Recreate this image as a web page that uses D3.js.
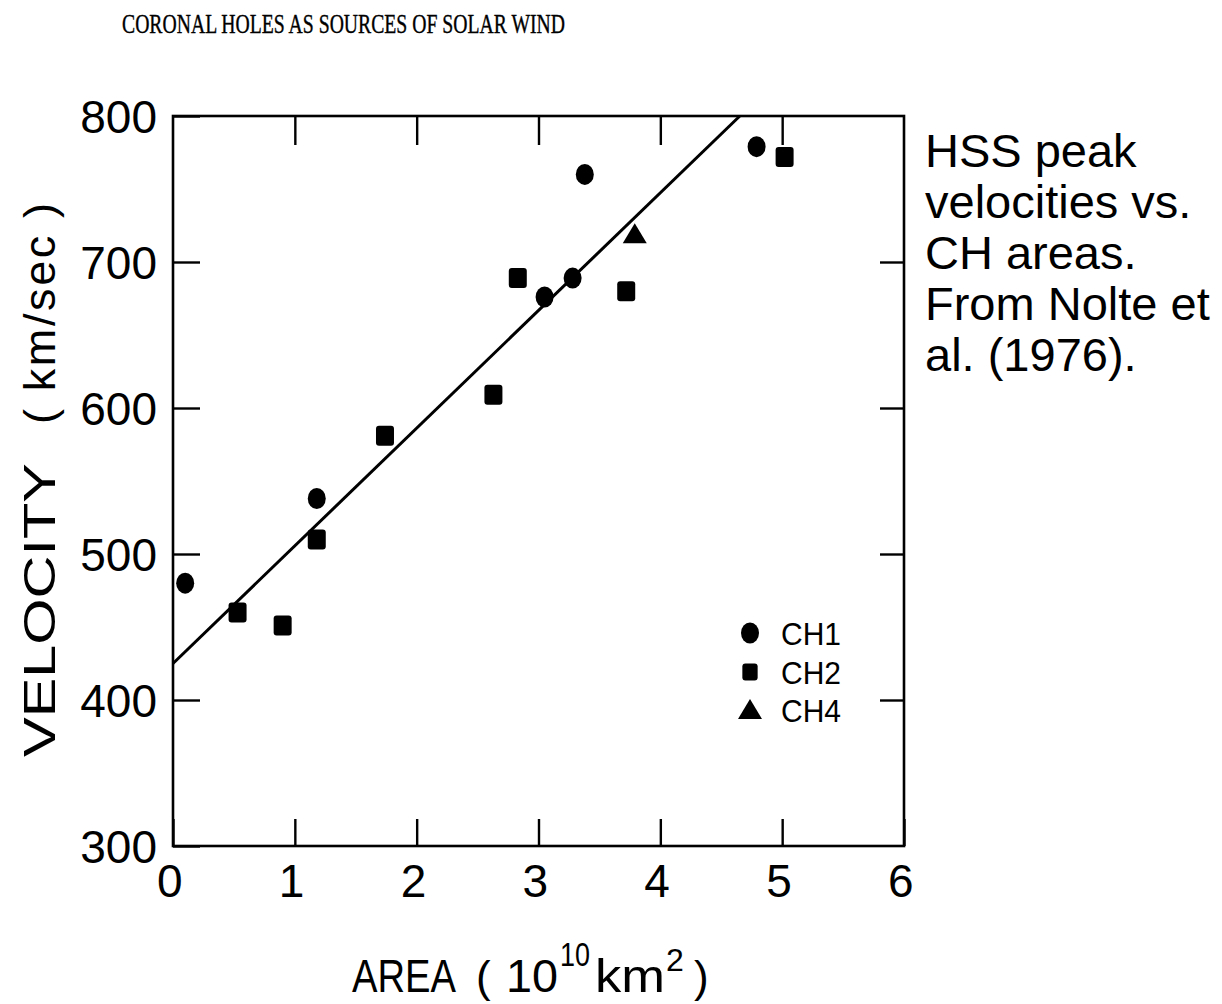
<!DOCTYPE html>
<html>
<head>
<meta charset="utf-8">
<script src="https://cdn.jsdelivr.net/npm/d3@7"></script>
<style>
  html, body { margin: 0; padding: 0; background: #fff; }
  svg { display: block; }
  text { fill: #000; }
</style>
</head>
<body>
<svg id="chart" width="1222" height="1004"></svg>
<script>
// ---- data ----
const ch1Area = [0.10, 1.18, 3.05, 3.28, 3.38, 4.79];
const ch1Vel  = [480, 538, 676, 689, 760, 779];
const ch2Area = [0.53, 0.90, 1.18, 1.74, 2.63, 2.83, 3.72, 5.02];
const ch2Vel  = [460, 451, 510, 581, 609, 689, 680, 772];
const ch4Area = [3.79];
const ch4Vel  = [719];
const fitIntercept = 425;   // km/sec at area 0
const fitSlope = 80.6;      // km/sec per 10^10 km^2
const xTicks = [0, 1, 2, 3, 4, 5, 6];
const yTicks = [300, 400, 500, 600, 700, 800];
const legendLabels = ["CH1", "CH2", "CH4"];
const titleText = "CORONAL HOLES AS SOURCES OF SOLAR WIND";
const noteLines = ["HSS peak", "velocities vs.", "CH areas.", "From Nolte et", "al. (1976)."];

const svg = d3.select("#chart");
const SANS = "'Liberation Sans', Arial, Helvetica, sans-serif";

const x = d3.scaleLinear().domain([0, 6]).range([173, 904]);
const y = d3.scaleLinear().domain([300, 800]).range([846, 116]);

// title
svg.append("text")
  .attr("x", 122).attr("y", 33)
  .attr("font-family", "'Liberation Serif', 'Times New Roman', serif")
  .attr("font-size", 28)
  .attr("stroke", "#000").attr("stroke-width", 0.4)
  .attr("textLength", 443).attr("lengthAdjust", "spacingAndGlyphs")
  .text(titleText);

// frame
svg.append("rect")
  .attr("x", x(0)).attr("y", y(800))
  .attr("width", x(6) - x(0)).attr("height", y(300) - y(800))
  .attr("fill", "none").attr("stroke", "#000").attr("stroke-width", 2.6);

const tickLen = 27;
function styleAxis(g) {
  g.select(".domain").remove();
  g.selectAll(".tick line").attr("stroke", "#000").attr("stroke-width", 2.4);
  g.selectAll(".tick text").attr("font-family", SANS).attr("font-size", 46).attr("fill", "#000");
}

// bottom axis
svg.append("g").attr("transform", `translate(0,${y(300)})`)
  .call(d3.axisBottom(x).tickValues(xTicks).tickFormat(d3.format("d"))
        .tickSizeInner(-tickLen).tickSizeOuter(0).tickPadding(18))
  .call(styleAxis)
  .call(g => g.selectAll(".tick text").attr("dx", "-0.08em"));

// top axis (ticks only)
svg.append("g").attr("transform", `translate(0,${y(800)})`)
  .call(d3.axisTop(x).tickValues(xTicks.slice(1, -1)).tickFormat("")
        .tickSizeInner(-tickLen - 2).tickSizeOuter(0))
  .call(styleAxis);

// left axis
svg.append("g").attr("transform", `translate(${x(0)},0)`)
  .call(d3.axisLeft(y).tickValues(yTicks).tickFormat(d3.format("d"))
        .tickSizeInner(-tickLen).tickSizeOuter(0).tickPadding(16))
  .call(styleAxis)
  .call(g => g.selectAll(".tick text").attr("dy", "0.36em"));

// right axis (ticks only)
svg.append("g").attr("transform", `translate(${x(6)},0)`)
  .call(d3.axisRight(y).tickValues(yTicks.slice(1, -1)).tickFormat("")
        .tickSizeInner(-tickLen + 3).tickSizeOuter(0))
  .call(styleAxis);

// regression line, clipped at the top of the frame
const aEnd = (800 - fitIntercept) / fitSlope;
svg.append("line")
  .attr("x1", x(0)).attr("y1", y(fitIntercept))
  .attr("x2", x(aEnd)).attr("y2", y(fitIntercept + fitSlope * aEnd))
  .attr("stroke", "#000").attr("stroke-width", 3);

// markers
const circleMark = (g, cx, cy, s = 1) => g.append("ellipse")
  .attr("cx", cx).attr("cy", cy).attr("rx", 9 * s).attr("ry", 10.5 * s).attr("fill", "#000");
const squareMark = (g, cx, cy, s = 1) => g.append("rect")
  .attr("x", cx - 9 * s).attr("y", cy - 10 * s).attr("width", 18 * s).attr("height", 20 * s)
  .attr("rx", 3).attr("fill", "#000");
const triMark = (g, cx, cy, s = 1) => g.append("path")
  .attr("d", `M${cx},${cy - 11 * s}L${cx + 12 * s},${cy + 9 * s}L${cx - 12 * s},${cy + 9 * s}Z`)
  .attr("fill", "#000");

const pts = svg.append("g");
ch1Area.forEach((a, i) => circleMark(pts, x(a), y(ch1Vel[i])));
ch2Area.forEach((a, i) => squareMark(pts, x(a), y(ch2Vel[i])));
ch4Area.forEach((a, i) => triMark(pts, x(a), y(ch4Vel[i])));

// legend
const leg = svg.append("g");
const legY = [633, 672, 710];
const legMarks = [circleMark, squareMark, triMark];
legendLabels.forEach((lab, i) => {
  legMarks[i](leg, 750, legY[i], i === 1 ? 0.85 : 1);
  leg.append("text").attr("x", 781).attr("y", legY[i] + 12)
    .attr("font-family", SANS).attr("font-size", 31)
    .attr("textLength", 60).attr("lengthAdjust", "spacingAndGlyphs")
    .text(lab);
});

// y-axis title
const yl = svg.append("g").attr("transform", "translate(55,0) rotate(-90)");
yl.append("text").attr("x", -757).attr("y", 0)
  .attr("font-family", SANS).attr("font-size", 45)
  .attr("textLength", 294).attr("lengthAdjust", "spacingAndGlyphs")
  .text("VELOCITY");
yl.append("text").attr("x", -424).attr("y", 0)
  .attr("font-family", SANS).attr("font-size", 45)
  .attr("textLength", 221).attr("lengthAdjust", "spacing")
  .text("( km/sec )");

// x-axis title
const xl = svg.append("g").attr("font-family", SANS);
const xb = 992;
xl.append("text").attr("x", 352).attr("y", xb).attr("font-size", 46)
  .attr("textLength", 104).attr("lengthAdjust", "spacingAndGlyphs").text("AREA");
xl.append("text").attr("x", 476).attr("y", xb).attr("font-size", 44).text("(");
xl.append("text").attr("x", 506).attr("y", xb).attr("font-size", 46)
  .attr("textLength", 52).attr("lengthAdjust", "spacingAndGlyphs").text("10");
xl.append("text").attr("x", 560).attr("y", xb - 26).attr("font-size", 34)
  .attr("textLength", 30).attr("lengthAdjust", "spacingAndGlyphs").text("10");
xl.append("text").attr("x", 595).attr("y", xb).attr("font-size", 46)
  .attr("textLength", 70).attr("lengthAdjust", "spacingAndGlyphs").text("km");
xl.append("text").attr("x", 666).attr("y", xb - 21).attr("font-size", 32).text("2");
xl.append("text").attr("x", 694).attr("y", xb).attr("font-size", 44).text(")");

// side note
const note = svg.append("text").attr("font-family", SANS).attr("font-size", 47);
noteLines.forEach((ln, i) => {
  note.append("tspan").attr("x", 925).attr("y", 167 + i * 51).text(ln);
});
</script>
</body>
</html>
